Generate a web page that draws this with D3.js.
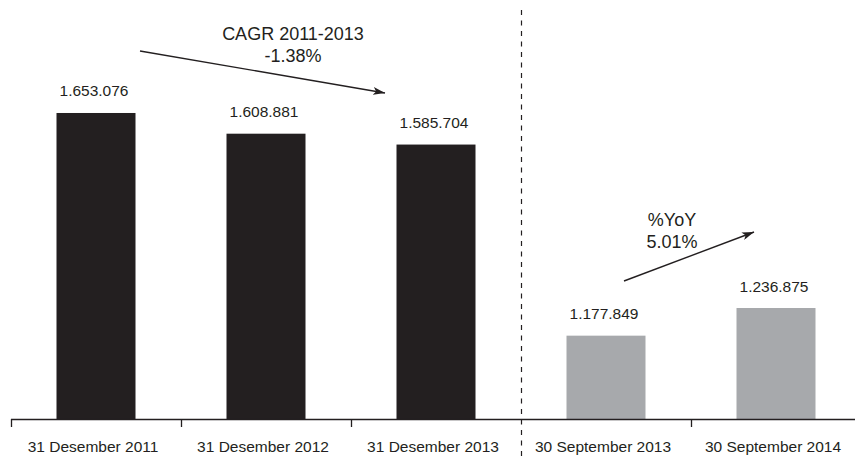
<!DOCTYPE html>
<html>
<head>
<meta charset="utf-8">
<script src="https://cdn.jsdelivr.net/npm/d3@7"></script>
<style>
  html, body { margin: 0; padding: 0; background: #fff; }
  svg { display: block; }
  text { font-family: "Liberation Sans", Arial, Helvetica, sans-serif; fill: #231f20; }
</style>
</head>
<body>
<svg id="chart" width="855" height="457"></svg>
<script>
// ---- data ----
const categories = ["31 Desember 2011", "31 Desember 2012", "31 Desember 2013", "30 September 2013", "30 September 2014"];
const values = [1653076, 1608881, 1585704, 1177849, 1236875];
const valueLabels = ["1.653.076", "1.608.881", "1.585.704", "1.177.849", "1.236.875"];
const groups = ["annual", "annual", "annual", "interim", "interim"];
const annotationCagr = ["CAGR 2011-2013", "-1.38%"];
const annotationYoy = ["%YoY", "5.01%"];

// ---- layout ----
const W = 855, H = 457;
const baseY = 419;
const svg = d3.select("#chart");

const x = d3.scaleBand().domain(categories).range([11, 861]).padding(0);
const y = d3.scaleLinear().domain([1000000, 1700000]).range([baseY, 91]);
const color = d3.scaleOrdinal().domain(["annual", "interim"]).range(["#231f20", "#a7a9ac"]);
const barW = 79;
const off = (x.bandwidth() - barW) / 2;

// bars
svg.append("g").selectAll("rect")
  .data(categories)
  .join("rect")
  .attr("x", (c) => x(c) + off)
  .attr("width", barW)
  .attr("y", (c, i) => y(values[i]))
  .attr("height", (c, i) => baseY - y(values[i]))
  .attr("fill", (c, i) => color(groups[i]));

// value labels
svg.append("g").selectAll("text")
  .data(categories)
  .join("text")
  .attr("x", (c) => x(c) + x.bandwidth() / 2 - 2)
  .attr("y", (c, i) => y(values[i]) - 16.5)
  .attr("text-anchor", "middle")
  .style("font-size", "15.5px")
  .text((c, i) => valueLabels[i]);

// x axis (labels)
const axis = svg.append("g")
  .attr("transform", `translate(0,${baseY})`)
  .call(d3.axisBottom(x).tickSize(0).tickPadding(22));
axis.select(".domain").remove();
axis.selectAll("text")
  .attr("dx", -3)
  .style("font-size", "15.5px")
  .style("font-family", '"Liberation Sans", Arial, sans-serif')
  .attr("fill", "#231f20");

// axis line
svg.append("line")
  .attr("x1", x.range()[0]).attr("x2", W)
  .attr("y1", baseY + 0.5).attr("y2", baseY + 0.5)
  .attr("stroke", "#231f20").attr("stroke-width", 1.4);

// boundary ticks (skip the one replaced by the dashed separator)
const boundaries = categories.map((c) => x(c)).filter((v, i) => i !== 3);
svg.append("g").selectAll("line")
  .data(boundaries)
  .join("line")
  .attr("x1", (d) => d + 0.5).attr("x2", (d) => d + 0.5)
  .attr("y1", baseY).attr("y2", baseY + 8)
  .attr("stroke", "#231f20").attr("stroke-width", 1.3);

// dashed separator
const sepX = x(categories[3]) + 0.5;
svg.append("line")
  .attr("x1", sepX).attr("x2", sepX)
  .attr("y1", 10).attr("y2", H)
  .attr("stroke", "#231f20").attr("stroke-width", 1.2)
  .attr("stroke-dasharray", "5,5.5");

// arrow marker
svg.append("defs").append("marker")
  .attr("id", "arr")
  .attr("viewBox", "0 0 12 8")
  .attr("refX", 12).attr("refY", 4)
  .attr("markerWidth", 12).attr("markerHeight", 8)
  .attr("markerUnits", "userSpaceOnUse")
  .attr("orient", "auto")
  .append("path")
  .attr("d", "M0,0 L12,4 L0,8 L3,4 Z")
  .attr("fill", "#231f20");

// CAGR annotation
const c0 = x(categories[0]) + x.bandwidth() / 2;
const c2 = x(categories[2]) + x.bandwidth() / 2;
svg.append("line")
  .attr("x1", c0 + 44).attr("y1", 51)
  .attr("x2", c2 - 51).attr("y2", 93)
  .attr("stroke", "#231f20").attr("stroke-width", 1.4)
  .attr("marker-end", "url(#arr)");
const cagr = svg.append("text")
  .attr("x", 293).attr("y", 40)
  .attr("text-anchor", "middle")
  .style("font-size", "18px");
cagr.selectAll("tspan").data(annotationCagr).join("tspan")
  .attr("x", 293)
  .attr("dy", (d, i) => i === 0 ? 0 : 21.5)
  .text((d) => d);

// YoY annotation
const c3 = x(categories[3]) + x.bandwidth() / 2;
const c4 = x(categories[4]) + x.bandwidth() / 2;
svg.append("line")
  .attr("x1", c3 + 18).attr("y1", 281)
  .attr("x2", c4 - 22).attr("y2", 232)
  .attr("stroke", "#231f20").attr("stroke-width", 1.4)
  .attr("marker-end", "url(#arr)");
const yoy = svg.append("text")
  .attr("x", 672).attr("y", 226)
  .attr("text-anchor", "middle")
  .style("font-size", "18px");
yoy.selectAll("tspan").data(annotationYoy).join("tspan")
  .attr("x", 672)
  .attr("dy", (d, i) => i === 0 ? 0 : 21.5)
  .text((d) => d);
</script>
</body>
</html>
